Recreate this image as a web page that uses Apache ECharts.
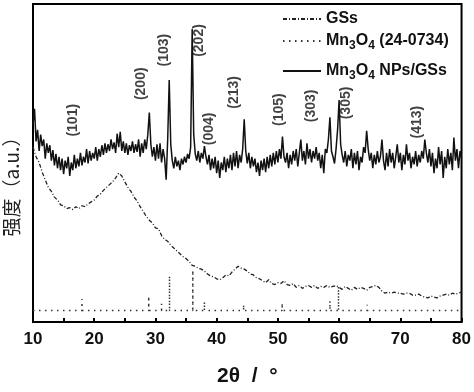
<!DOCTYPE html>
<html><head><meta charset="utf-8">
<script src="https://cdn.jsdelivr.net/npm/echarts@6/dist/echarts.min.js"></script>
<style>html,body{margin:0;padding:0;background:#fff}#c{width:474px;height:392px}</style>
</head><body><div id="c"></div>
<script>
// 2θ grid for the composite pattern (start, step in degrees)
var compStart = 10, compStep = 0.25;
var compositeIntensity = [
205,222,188,200, 178,195,183,190, 170,186,176,184, 168,179,163,175, 160,172,158,170,
154,168,160,172, 152,166,158,174, 160,170,162,176, 163,172,166,180, 165,178,168,176,
170,182,168,180, 172,184,174,186, 176,185,178,190, 180,187,176,196, 182,198,178,188,
176,186,174,184, 178,188,176,185, 177,190,172,186, 176,190,180,195, 218,185,172,182,
168,185,170,186, 166,180,170,148, 190,252,185,168, 160,172,162,168, 158,170,164,172,
166,175,170,182, 305,195,175,168, 178,166,176,170, 183,172,164,174, 158,170,160,172,
155,168,150,166, 158,172,156,170, 160,174,158,176, 162,178,160,174, 166,180,211,178,
165,176,160,172, 162,170,156,166, 152,168,158,170, 156,172,160,174, 162,176,164,178,
166,180,170,193, 172,166,176,160, 174,164,178,168, 180,162,176,190, 168,178,164,186,
170,180,166,178, 170,182,168,176, 160,174,155,180, 176,190,213,178, 172,165,180,200,
231,185,174,166, 178,162,174,168, 180,160,176,164, 178,158,172,166, 182,176,199,180,
168,176,160,174, 164,178,166,172, 190,168,158,176, 162,180,166,176, 160,172,185,166,
176,158,174,164, 185,168,176,160, 172,164,178,162, 174,166,178,170, 190,176,166,180,
162,176,155,170, 160,182,164,178, 150,172,160,180, 164,176,158,192, 168,180,160,178,
170];
var gssStart = 10, gssStep = 0.5;
var gssIntensity = [
182,172,166,156,148,140,136,130,127,122, 121,118,119,117,120,118,121,120,123,125,
127,131,133,137,140,143,146,150,155,152, 146,140,136,130,126,120,115,110,106,103,
98,97,90,86,84,80,77,74,71,68, 66,63,59,58,56,55,53,50,48,47,
45,44,46,49,48,52,55,58,56,55, 53,50,49,46,45,43,41,44,40,39,
41,40,43,39,38,40,36,38,35,37, 38,36,38,35,37,36,38,36,37,38,
36,34,37,35,33,36,34,36,35,33, 36,37,38,36,32,30,31,30,31,30,
30,29,30,30,28,28,29,27,26,25, 27,26,25,27,28,29,28,30,29,30,
31];
// JCPDS 24-0734 reference lines
var refBaseline = 12;
var refAngles  = [18.0, 28.9, 31.0, 32.3, 36.1, 38.0, 44.4, 50.7, 58.5, 59.9, 64.6];
var refHeights = [24, 27, 19, 48, 54, 21, 18, 20, 22, 37, 18];
// peak indices
var peakNames  = ['(101)','(200)','(103)','(202)','(004)','(213)','(105)','(303)','(305)','(413)'];
var peakAngles = [16.5, 27.6, 31.5, 37.2, 38.7, 42.9, 50.2, 55.4, 61.1, 72.8];
var xTicks = [10,20,30,40,50,60,70,80];

// label placement (annotation layout, in axis units)
var peakLabelY = [210, 248, 283, 293, 201, 239, 221, 225, 228, 208];

var comp = compositeIntensity.map(function(v,i){return [compStart+i*compStep, v];});
var gss = gssIntensity.map(function(v,i){return [gssStart+i*gssStep, v];});
var ref = [[10, refBaseline]];
refAngles.forEach(function(a,i){ ref.push([a,refBaseline],[a,refHeights[i]],[a,refBaseline]); });
ref.push([80, refBaseline]);
var labels = peakNames.map(function(n,i){return {name:n, value:[peakAngles[i], peakLabelY[i]]};});

var FONT = '"Liberation Sans", Arial, sans-serif';
var rich = {
  b:{fontFamily:FONT,fontWeight:'bold',fontSize:16,color:'#111'},
  s:{fontFamily:FONT,fontWeight:'bold',fontSize:12,color:'#111',padding:[10,0,0,0]}
};
function fmt(name){
  if(name==='GSs') return '{b|GSs}';
  if(name==='ref') return '{b|Mn}{s|3}{b|O}{s|4}{b| (24-0734)}';
  return '{b|Mn}{s|3}{b|O}{s|4}{b| NPs/GSs}';
}
function lg(name, top){
  return {data:[name], left:282, top:top, itemWidth:38, itemHeight:10, itemGap:0,
    formatter:fmt, textStyle:{rich:rich}, padding:0, selectedMode:false,
    itemStyle:{color:'rgba(0,0,0,0)', borderWidth:0, opacity:0}};
}
var chart = echarts.init(document.getElementById('c'));
chart.setOption({
  animation:false,
  backgroundColor:'#fff',
  color:['#222','#333','#111'],
  grid:{left:33, right:11, top:4, bottom:57, show:true, borderColor:'#000', borderWidth:2},
  legend:[lg('GSs',11), lg('ref',33), lg('comp',63)],
  xAxis:{type:'value', min:10, max:80, interval:10,
    axisLine:{lineStyle:{color:'#000',width:2}},
    axisTick:{inside:true,length:4,lineStyle:{color:'#000',width:2}},
    minorTick:{show:true,splitNumber:2,length:4,lineStyle:{color:'#000',width:2}},
    splitLine:{show:false},
    axisLabel:{fontFamily:FONT,fontWeight:'bold',fontSize:17,color:'#111',margin:9,
      formatter:function(v){return xTicks.indexOf(v)>=0?String(v):'';}},
    name:'2θ  /  °', nameLocation:'middle', nameGap:44,
    nameTextStyle:{fontFamily:FONT,fontWeight:'bold',fontSize:21,color:'#111'}
  },
  yAxis:{type:'value', min:0, max:331, show:true,
    axisLine:{show:false}, axisTick:{show:false}, axisLabel:{show:false}, splitLine:{show:false}},
  graphic:[{type:'text', x:12, y:182, rotation:Math.PI/2, style:{text:'强度（a.u.）',
    font:'19px "Noto Sans CJK SC", sans-serif', fill:'#222', align:'center', verticalAlign:'middle'}}],
  series:[
    {name:'GSs', type:'line', data:gss, symbol:'none', z:2,
      itemStyle:{color:'#222'},
      lineStyle:{color:'#222', width:1.3, type:[4,2,1,2]}},
    {name:'ref', type:'line', data:ref, symbol:'none', z:2,
      itemStyle:{color:'#333'},
      lineStyle:{color:'#333', width:1.5, type:[1.5,4.5]}},
    {name:'comp', type:'line', data:comp, symbol:'none', z:3,
      itemStyle:{color:'#111'},
      lineStyle:{color:'#111', width:1.5}},
    {name:'labels', type:'scatter', data:labels, symbolSize:0, z:4, silent:true,
      label:{show:true, formatter:'{b}', rotate:90, position:'inside',
        fontFamily:FONT, fontWeight:'bold', fontSize:14, color:'#111'}}
  ]
});
</script></body></html>
